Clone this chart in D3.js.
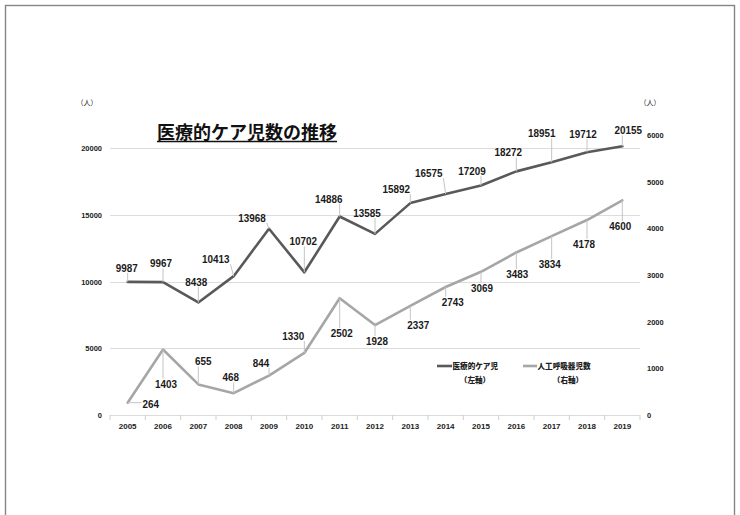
<!DOCTYPE html>
<html>
<head>
<meta charset="utf-8">
<script src="https://cdn.jsdelivr.net/npm/d3@7/dist/d3.min.js"></script>
<style>
  html, body { margin: 0; padding: 0; background: #fff; }
  svg { display: block; }
</style>
</head>
<body>
<script>
// Years on the category axis
const years = ["2005","2006","2007","2008","2009","2010","2011","2012","2013","2014","2015","2016","2017","2018","2019"];
// Children needing medical care (left axis)
const careCounts = [9987, 9967, 8438, 10413, 13968, 10702, 14886, 13585, 15892, 16575, 17209, 18272, 18951, 19712, 20155];
// Children on ventilators (right axis)
const ventCounts = [264, 1403, 655, 468, 844, 1330, 2502, 1928, 2337, 2743, 3069, 3483, 3834, 4178, 4600];
// Axis ticks
const leftTicks = [0, 5000, 10000, 15000, 20000];
const rightTicks = [0, 1000, 2000, 3000, 4000, 5000, 6000];

const seriesNames = ["医療的ケア児", "人工呼吸器児数"];
const axisNotes = ["（左軸）", "（右軸）"];
const titleText = "医療的ケア児数の推移";
const unitText = "（人）";

// Label placement (pixel offset of each value label from its point)
const careLabelOffsets = [[-1,-14],[-2,-19],[-2,-21],[-18,-17],[-17,-11],[-1,-31],[-11,-18],[-8,-21],[-14,-14],[-17,-21],[-9,-15],[-8,-19],[-10,-29],[-4,-18],[6,-16]];
const ventLabelOffsets = [[23,1],[3,34],[5,-23],[-3,-16],[-8,-13],[-11,-17],[2,35],[2,16],[8,19],[7,15],[1,16],[1,22],[-2,28],[-3,24],[-2,26]];

const W = 740, H = 515;
const plot = { left: 110, right: 640, top: 135, bottom: 415 };
const careColor = "#595959", ventColor = "#a6a6a6";
const labelFont = "'Liberation Sans',Arial,sans-serif";
const labelSize = 11.5, labelSquash = 0.86;
const axisFont = "'Liberation Sans',Arial,sans-serif";
const cjkFont = "'Noto Sans CJK JP','Noto Sans',sans-serif";

const svg = d3.select("body").append("svg").attr("width", W).attr("height", H);

// outer frame
svg.append("rect").attr("x", 5.5).attr("y", 5.5).attr("width", 729).attr("height", 600)
  .attr("fill", "none").attr("stroke", "#858585").attr("stroke-width", 1.4);

const x = d3.scaleBand().domain(years).range([plot.left, plot.right]);
const yL = d3.scaleLinear().domain([0, 21000]).range([plot.bottom, plot.top]);
const yR = d3.scaleLinear().domain([0, 6000]).range([plot.bottom, plot.top]);
const cx = d => x(d) + x.bandwidth() / 2;

// gridlines on the left-axis ticks
svg.append("g").selectAll("line").data(leftTicks).join("line")
  .attr("x1", plot.left).attr("x2", plot.right)
  .attr("y1", d => Math.round(yL(d)) + 0.5).attr("y2", d => Math.round(yL(d)) + 0.5)
  .attr("stroke", "#dcdcdc").attr("stroke-width", 1);

// category boundary tick marks
svg.append("g").selectAll("line").data(d3.range(years.length + 1)).join("line")
  .attr("x1", i => plot.left + i * x.step()).attr("x2", i => plot.left + i * x.step())
  .attr("y1", plot.bottom).attr("y2", plot.bottom + 5)
  .attr("stroke", "#d0d0d0").attr("stroke-width", 1);

// axes
function styleAxis(g, size) {
  g.select(".domain").remove();
  g.selectAll("text").attr("font-family", axisFont).attr("font-size", size)
    .attr("font-weight", "bold").attr("fill", "#222");
}
svg.append("g").attr("transform", `translate(${plot.left},0)`)
  .call(d3.axisLeft(yL).tickValues(leftTicks).tickSize(0).tickPadding(8).tickFormat(d3.format("d")))
  .call(g => styleAxis(g, 7.5));
svg.append("g").attr("transform", `translate(${plot.right},0)`)
  .call(d3.axisRight(yR).tickValues(rightTicks).tickSize(0).tickPadding(7).tickFormat(d3.format("d")))
  .call(g => styleAxis(g, 7.5));
svg.append("g").attr("transform", `translate(0,${plot.bottom})`)
  .call(d3.axisBottom(x).tickSize(0).tickPadding(8))
  .call(g => styleAxis(g, 8));

// unit notes
svg.append("text").attr("x", 87).attr("y", 103).attr("dy", "0.35em").attr("text-anchor", "middle")
  .attr("font-family", cjkFont).attr("font-size", 7).attr("fill", "#222").text(unitText);
svg.append("text").attr("x", 650).attr("y", 103).attr("dy", "0.35em").attr("text-anchor", "middle")
  .attr("font-family", cjkFont).attr("font-size", 7).attr("fill", "#222").text(unitText);

// title
const title = svg.append("text").attr("x", 157).attr("y", 139)
  .attr("font-family", cjkFont).attr("font-size", 18).attr("font-weight", "bold")
  .attr("fill", "#111").text(titleText);
const tb = title.node().getBBox();
svg.append("line").attr("x1", tb.x).attr("x2", tb.x + tb.width).attr("y1", 141.5).attr("y2", 141.5)
  .attr("stroke", "#111").attr("stroke-width", 1.5);

// series lines
function drawSeries(values, yScale, color) {
  const line = d3.line().x((d, i) => cx(years[i])).y(d => yScale(d));
  svg.append("path").datum(values).attr("d", line)
    .attr("fill", "none").attr("stroke", color).attr("stroke-width", 2.6)
    .attr("stroke-linejoin", "round").attr("stroke-linecap", "round");
}
drawSeries(ventCounts, yR, ventColor);
drawSeries(careCounts, yL, careColor);

// value labels (slightly condensed) with leader lines
function drawLabels(values, yScale, offsets) {
  const leaders = svg.append("g");
  const g = svg.append("g");
  values.forEach((v, i) => {
    const px = cx(years[i]), py = yScale(v);
    const lx = px + offsets[i][0], ly = py + offsets[i][1];
    const t = g.append("text")
      .attr("transform", `translate(${lx},${ly}) scale(${labelSquash},1)`)
      .attr("dy", "0.35em").attr("text-anchor", "middle")
      .attr("font-family", labelFont).attr("font-size", labelSize).attr("font-weight", "bold")
      .attr("fill", "#1a1a1a").text(v);
    const b = t.node().getBBox();
    const halfW = b.width * labelSquash / 2;
    const bx0 = lx - halfW - 1, bx1 = lx + halfW + 1;
    const by0 = ly + b.y + 1.5, by1 = ly + b.y + b.height - 1;
    const qx = Math.max(bx0, Math.min(px, bx1));
    const qy = Math.max(by0, Math.min(py, by1));
    if (Math.hypot(px - qx, py - qy) > 4) {
      leaders.append("line").attr("x1", qx).attr("y1", qy).attr("x2", px).attr("y2", py)
        .attr("stroke", "#c4c4c4").attr("stroke-width", 1);
    }
  });
}
drawLabels(careCounts, yL, careLabelOffsets);
drawLabels(ventCounts, yR, ventLabelOffsets);

// legend
const legend = [
  { name: seriesNames[0], note: axisNotes[0], color: careColor, x0: 437, x1: 452, noteX: 475 },
  { name: seriesNames[1], note: axisNotes[1], color: ventColor, x0: 523, x1: 537, noteX: 568 }
];
legend.forEach(l => {
  svg.append("line").attr("x1", l.x0).attr("x2", l.x1).attr("y1", 366).attr("y2", 366)
    .attr("stroke", l.color).attr("stroke-width", 2.6);
  svg.append("text").attr("x", l.x1 + 0.5).attr("y", 366).attr("dy", "0.35em")
    .attr("font-family", cjkFont).attr("font-size", 7.6).attr("font-weight", 900)
    .attr("fill", "#222").text(l.name);
  svg.append("text").attr("x", l.noteX).attr("y", 380).attr("dy", "0.35em").attr("text-anchor", "middle")
    .attr("font-family", cjkFont).attr("font-size", 7.6).attr("font-weight", 900)
    .attr("fill", "#222").text(l.note);
});
</script>
</body>
</html>
